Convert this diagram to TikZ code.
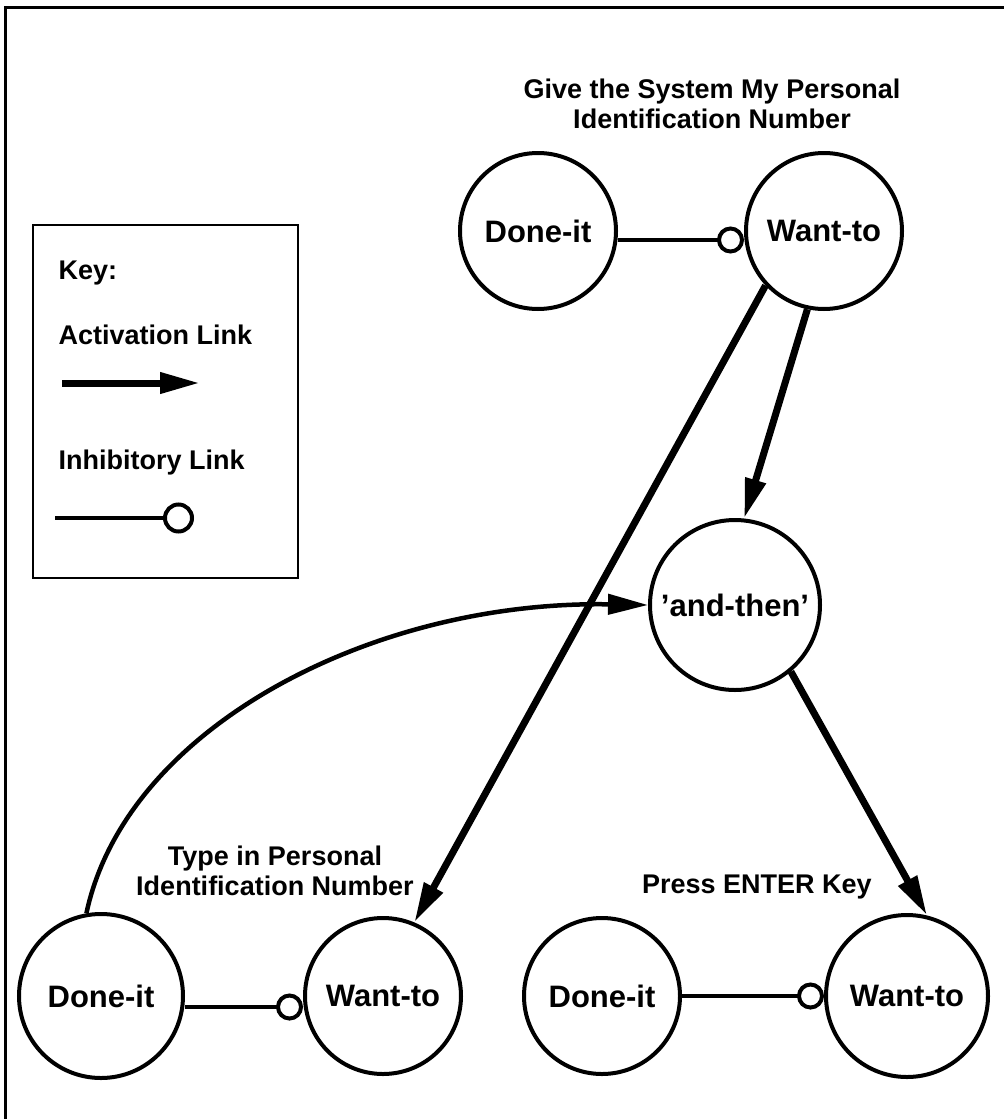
\documentclass[tikz,border=0pt]{standalone}
\usepackage{fontspec}
\setmainfont{Liberation Sans}
\usepackage{tikz}
\usetikzlibrary{arrows.meta}

\begin{document}
\begin{tikzpicture}[x=1pt,y=1pt,>={Triangle[length=40pt,width=20pt]},node distance=286pt,
                    unit/.style={circle,draw,line width=4pt,minimum size=156pt,inner sep=0pt,
                                 font=\bfseries\fontsize{31}{36}\selectfont},
                    activ/.style={->,line width=7pt},
                    seq/.style={->,line width=4.5pt},
                    inhib/.style={-{Circle[open,length=27pt,width=27pt,line width=4pt]},line width=3.5pt},
                    caption/.style={align=center,font=\bfseries\fontsize{27}{30}\selectfont},
                    keytext/.style={anchor=west,font=\bfseries\fontsize{27}{30}\selectfont}]

	\useasboundingbox (0,0) rectangle (1004,-1119);
	\draw[line width=3pt] (5,-1119) -- (5,-7) -- (1004,-7);

	% key
	\draw[line width=2.5pt] (33,-225) rectangle (298,-578);
	\node[keytext] (key)  at (55,-273)  		{Key:};
	\node[keytext] (actT) at (55,-335)  		{Activation Link};
	\node[keytext] (inhT) at (55,-463)  		{Inhibitory Link};
	\coordinate (actL) at (62,-383);
	\coordinate (actR) at (200,-383);
	\coordinate (inhL) at (55,-518);
	\coordinate (inhR) at (194,-518);
	\path (actL) edge [activ] (actR);
	\path (inhL) edge [inhib,-{Circle[open,length=31pt,width=31pt,line width=4pt]}] (inhR);

	% nodes
	\node[unit] (doneA) at (538,-231)        			{Done-it};
	\node[unit] (wantA) [right of=doneA]        		{Want-to};
	\node[unit,minimum size=170pt] (andthen) at (735,-605)	{'and-then'};
	\node[unit,minimum size=164pt] (doneB) at (101,-996)	{Done-it};
	\node[unit] (wantB) [right of=doneB,node distance=282pt]	{Want-to};
	\node[unit] (doneC) at (602,-996)        			{Done-it};
	\node[unit,minimum size=162pt] (wantC) [right of=doneC,node distance=305pt]	{Want-to};

	\node[caption] (giveT)  at (712,-104)  	{Give the System My Personal\\Identification Number};
	\node[caption] (typeT)  at (275,-871)  	{Type in Personal\\Identification Number};
	\node[caption] (pressT) at (757,-887)  	{Press ENTER Key};

	% links
	\path (doneA) edge [inhib,transform canvas={yshift=-9pt}] (wantA);
	\path (doneB) edge [inhib,transform canvas={yshift=-11pt}] (wantB);
	\path (doneC) edge [inhib] (wantC);

	\path (wantA.258) edge [activ] (andthen.84);
	\path (wantA.223) edge [activ] (wantB.67);
	\path (andthen.310) edge [activ] (wantC.76);
	\path (doneB.100) edge [seq,out=78,in=179,out distance=190pt,in distance=275pt] (andthen.west);

\end{tikzpicture}
\end{document}
